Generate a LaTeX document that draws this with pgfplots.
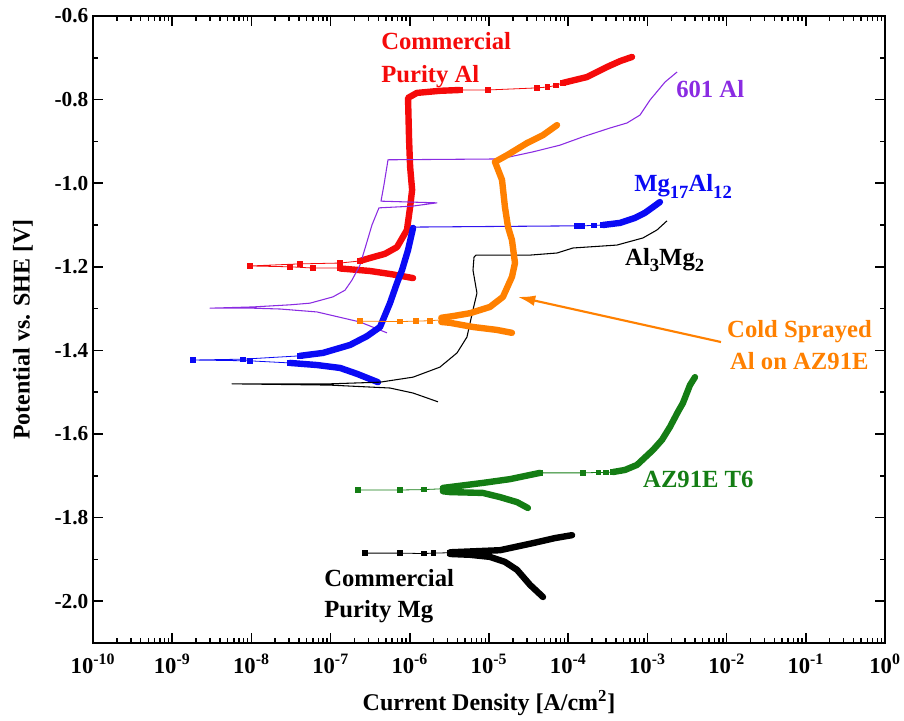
\documentclass[border=0pt]{standalone}
\usepackage{pgfplots}
\pgfplotsset{compat=1.18}
\usepackage{fontspec}
\setmainfont{Liberation Serif}
\usetikzlibrary{arrows.meta}
\definecolor{cred}{RGB}{245,10,10}
\definecolor{cpurple}{RGB}{138,43,226}
\definecolor{cblue}{RGB}{10,10,245}
\definecolor{corange}{RGB}{255,128,0}
\definecolor{cgreen}{RGB}{20,125,20}
\begin{document}
\begin{tikzpicture}
\begin{axis}[name=ax, scale only axis, width=594pt, height=470.25pt,
  xmode=log, xmin=1e-10, xmax=1, ymin=-2.1, ymax=-0.6,
  xtick={1e-10,1e-9,1e-8,1e-7,1e-6,1e-5,1e-4,1e-3,1e-2,1e-1,1},
  xticklabels={10\textsuperscript{-10},10\textsuperscript{-9},10\textsuperscript{-8},10\textsuperscript{-7},10\textsuperscript{-6},10\textsuperscript{-5},10\textsuperscript{-4},10\textsuperscript{-3},10\textsuperscript{-2},10\textsuperscript{-1},10\textsuperscript{0}},
  ytick={-2.0,-1.8,-1.6,-1.4,-1.2,-1.0,-0.8,-0.6},
  yticklabels={-2.0,-1.8,-1.6,-1.4,-1.2,-1.0,-0.8,-0.6},
  minor y tick num=1,
  tick align=inside, major tick length=7.5pt, minor tick length=4pt,
  every tick/.style={black, line width=1.1pt},
  axis line style={line width=1.5pt},
  yticklabel style={font=\bfseries\fontsize{16}{18}\selectfont},
  xticklabel style={font=\bfseries\fontsize{17}{19}\selectfont, yshift=-5pt},
  xlabel={Current Density [A/cm\textsuperscript{2}]},
  ylabel={Potential vs. SHE [V]},
  label style={font=\bfseries\fontsize{18}{20}\selectfont},
  xlabel style={at={(axis description cs:0.5,-0.107)}, anchor=base},
  ylabel style={at={(axis description cs:-0.0884,0.5)}, anchor=center},
  clip=false,
  thinm/.style={line width=0.6pt, mark=square*, mark size=1.7pt},
  thk/.style={line width=4.8pt, line join=round, line cap=round, no marks},
  thn/.style={line width=0.8pt, line join=round, no marks},
]
% ---- Commercial Purity Al (red)
\addplot[cred, thinm] coordinates {(1.32e-7,-1.203)(6.0e-8,-1.203)(3.07e-8,-1.200)(9.6e-9,-1.198)(4.11e-8,-1.193)(1.32e-7,-1.191)(2.35e-7,-1.186)};
\addplot[cred, thk] coordinates {(1.10e-6,-1.227)(6.0e-7,-1.218)(3.14e-7,-1.210)(1.32e-7,-1.204)};
\addplot[cred, thk] coordinates {(2.35e-7,-1.186)(3.14e-7,-1.179)(4.86e-7,-1.169)(6.89e-7,-1.153)(9.2e-7,-1.112)(1.01e-6,-1.057)(1.07e-6,-1.016)(1.01e-6,-0.961)(9.8e-7,-0.897)(9.5e-7,-0.796)(1.23e-6,-0.784)(2.40e-6,-0.779)(4.31e-6,-0.777)};
\addplot[cred, thinm] coordinates {(4.31e-6,-0.777)(9.7e-6,-0.777)(4.04e-5,-0.772)(5.5e-5,-0.770)(7.0e-5,-0.766)(8.59e-5,-0.760)};
\addplot[cred, thk] coordinates {(8.59e-5,-0.760)(1.73e-4,-0.746)(3.09e-4,-0.722)(4.51e-4,-0.708)(6.40e-4,-0.698)};
% ---- 601 Al (purple)
\addplot[cpurple, thn] coordinates {(5.15e-7,-1.358)(2.35e-7,-1.332)(6.73e-8,-1.308)(2.30e-8,-1.301)(1.05e-8,-1.299)(3.0e-9,-1.299)(1.05e-8,-1.296)(3.07e-8,-1.291)(5.5e-8,-1.287)(1.07e-7,-1.272)(1.52e-7,-1.256)(1.86e-7,-1.232)(2.35e-7,-1.196)(2.80e-7,-1.148)(3.33e-7,-1.100)(4.08e-7,-1.059)(1.07e-6,-1.055)(2.20e-6,-1.047)(4.33e-7,-1.043)(4.72e-7,-1.004)(5.31e-7,-0.944)(1.38e-5,-0.942)(3.60e-5,-0.925)(7.87e-5,-0.909)(1.54e-4,-0.889)(3.37e-4,-0.868)(5.52e-4,-0.856)(8.07e-4,-0.837)(1.08e-3,-0.801)(1.67e-3,-0.758)(2.37e-3,-0.734)};
% ---- Mg17Al12 (blue)
\addplot[cblue, thinm] coordinates {(3.07e-8,-1.430)(9.6e-9,-1.425)(1.83e-9,-1.423)(7.83e-9,-1.421)(4.11e-8,-1.413)};
\addplot[cblue, thk] coordinates {(3.96e-7,-1.476)(2.15e-7,-1.456)(1.32e-7,-1.442)(6.73e-8,-1.435)(3.07e-8,-1.430)};
\addplot[cblue, thk] coordinates {(4.11e-8,-1.413)(8.02e-8,-1.406)(1.76e-7,-1.387)(2.88e-7,-1.366)(4.21e-7,-1.344)(5.62e-7,-1.287)(6.89e-7,-1.239)(7.98e-7,-1.208)(9.5e-7,-1.160)(1.10e-6,-1.107)};
\addplot[cblue!70!cpurple, line width=0.8pt] coordinates {(1.10e-6,-1.105)(1.29e-4,-1.102)};
\addplot[cblue, thinm] coordinates {(1.29e-4,-1.102)(1.5e-4,-1.102)(2.1e-4,-1.101)(2.75e-4,-1.100)};
\addplot[cblue, thk] coordinates {(2.75e-4,-1.100)(4.51e-4,-1.095)(6.97e-4,-1.083)(9.3e-4,-1.071)(1.18e-3,-1.057)(1.44e-3,-1.045)};
% ---- Al3Mg2 (black thin)
\addplot[black, thn] coordinates {(2.27e-6,-1.523)(1.10e-6,-1.502)(5.62e-7,-1.490)(9.8e-8,-1.483)(5.69e-9,-1.480)(9.8e-8,-1.480)(4.21e-7,-1.476)(1.10e-6,-1.464)(2.40e-6,-1.440)(3.95e-6,-1.406)(5.27e-6,-1.368)(6.28e-6,-1.303)(7.05e-6,-1.263)(6.28e-6,-1.208)(6.47e-6,-1.177)(6.86e-6,-1.172)(3.30e-5,-1.172)(7.23e-5,-1.167)(1.15e-4,-1.155)(4.13e-4,-1.148)(8.79e-4,-1.131)(1.32e-3,-1.112)(1.77e-3,-1.090)};
% ---- Cold sprayed Al on AZ91E (orange)
\addplot[corange, thinm] coordinates {(2.35e-7,-1.330)(7.52e-7,-1.331)(1.2e-6,-1.330)(1.80e-6,-1.329)(2.5e-6,-1.327)};
\addplot[corange, thk] coordinates {(2.5e-6,-1.322)(3.51e-6,-1.318)(5.75e-6,-1.311)(1.03e-5,-1.296)(1.50e-5,-1.272)(1.95e-5,-1.224)(2.13e-5,-1.191)(1.95e-5,-1.136)(1.74e-5,-1.105)(1.59e-5,-1.057)(1.46e-5,-0.992)(1.26e-5,-0.961)(1.19e-5,-0.949)(1.69e-5,-0.933)(3.02e-5,-0.904)(4.81e-5,-0.885)(7.23e-5,-0.861)};
\addplot[corange, thk] coordinates {(2.5e-6,-1.332)(3.22e-6,-1.334)(6.28e-6,-1.344)(1.26e-5,-1.351)(1.95e-5,-1.358)};
% ---- AZ91E T6 (green)
\addplot[cgreen, thinm] coordinates {(2.22e-7,-1.734)(7.52e-7,-1.734)(1.5e-6,-1.733)(2.62e-6,-1.731)};
\addplot[cgreen, thk] coordinates {(2.62e-6,-1.729)(8.39e-6,-1.717)(1.84e-5,-1.708)(4.41e-5,-1.693)};
\addplot[cgreen, thinm] coordinates {(4.41e-5,-1.693)(1.54e-4,-1.693)(2.4e-4,-1.692)(3.0e-4,-1.692)(3.68e-4,-1.691)};
\addplot[cgreen, thk] coordinates {(3.68e-4,-1.691)(5.21e-4,-1.686)(7.39e-4,-1.674)(1.18e-3,-1.638)(1.53e-3,-1.614)(1.93e-3,-1.583)(2.43e-3,-1.547)(2.81e-3,-1.526)(3.45e-3,-1.483)(3.99e-3,-1.464)};
\addplot[cgreen, thk] coordinates {(2.62e-6,-1.737)(3.22e-6,-1.739)(8.39e-6,-1.741)(1.38e-5,-1.751)(2.26e-5,-1.763)(3.10e-5,-1.777)};
% ---- Commercial Purity Mg (black)
\addplot[black, thinm] coordinates {(2.72e-7,-1.885)(7.52e-7,-1.885)(1.5e-6,-1.886)(2.0e-6,-1.885)(3.22e-6,-1.884)};
\addplot[black, thk] coordinates {(3.22e-6,-1.883)(5.75e-6,-1.881)(1.38e-5,-1.878)(3.60e-5,-1.861)(6.81e-5,-1.849)(1.12e-4,-1.842)};
\addplot[black, thk] coordinates {(3.22e-6,-1.887)(5.75e-6,-1.889)(1.03e-5,-1.894)(1.59e-5,-1.906)(2.26e-5,-1.925)(3.30e-5,-1.961)(4.81e-5,-1.990)};
% ---- annotations
\tikzset{lab/.style={font=\bfseries\fontsize{18.5}{20}\selectfont, inner sep=0pt, anchor=base west}}
\node[lab, text=cred] at (axis cs:4.33e-7,-0.681) {Commercial};
\node[lab, text=cred] at (axis cs:4.33e-7,-0.758) {Purity Al};
\node[lab, text=cpurple] at (axis cs:2.30e-3,-0.794) {601 Al};
\node[lab, text=cblue] at (axis cs:6.78e-4,-1.021) {Mg\raisebox{-0.6ex}{\fontsize{14}{16}\selectfont 17}Al\raisebox{-0.6ex}{\fontsize{14}{16}\selectfont 12}};
\node[lab, text=black] at (axis cs:5.21e-4,-1.196) {Al\raisebox{-0.6ex}{\fontsize{14}{16}\selectfont 3}Mg\raisebox{-0.6ex}{\fontsize{14}{16}\selectfont 2}};
\node[lab, text=corange] at (axis cs:1.01e-2,-1.368) {Cold Sprayed};
\node[lab, text=corange] at (axis cs:1.1e-2,-1.445) {Al on AZ91E};
\node[lab, text=cgreen] at (axis cs:8.79e-4,-1.727) {AZ91E T6};
\node[lab, text=black] at (axis cs:8.26e-8,-1.966) {Commercial};
\node[lab, text=black] at (axis cs:8.26e-8,-2.038) {Purity Mg};
\draw[corange, line width=1.6pt, -{Latex[length=13pt,width=8pt]}] (axis cs:8.5e-3,-1.38) -- (axis cs:2.32e-5,-1.272);
\end{axis}
\pgfresetboundingbox
\path[use as bounding box] ([shift={(-69.75pt,-58.5pt)}]ax.south west) rectangle ([shift={(14.25pt,12pt)}]ax.north east);
\end{tikzpicture}
\end{document}
